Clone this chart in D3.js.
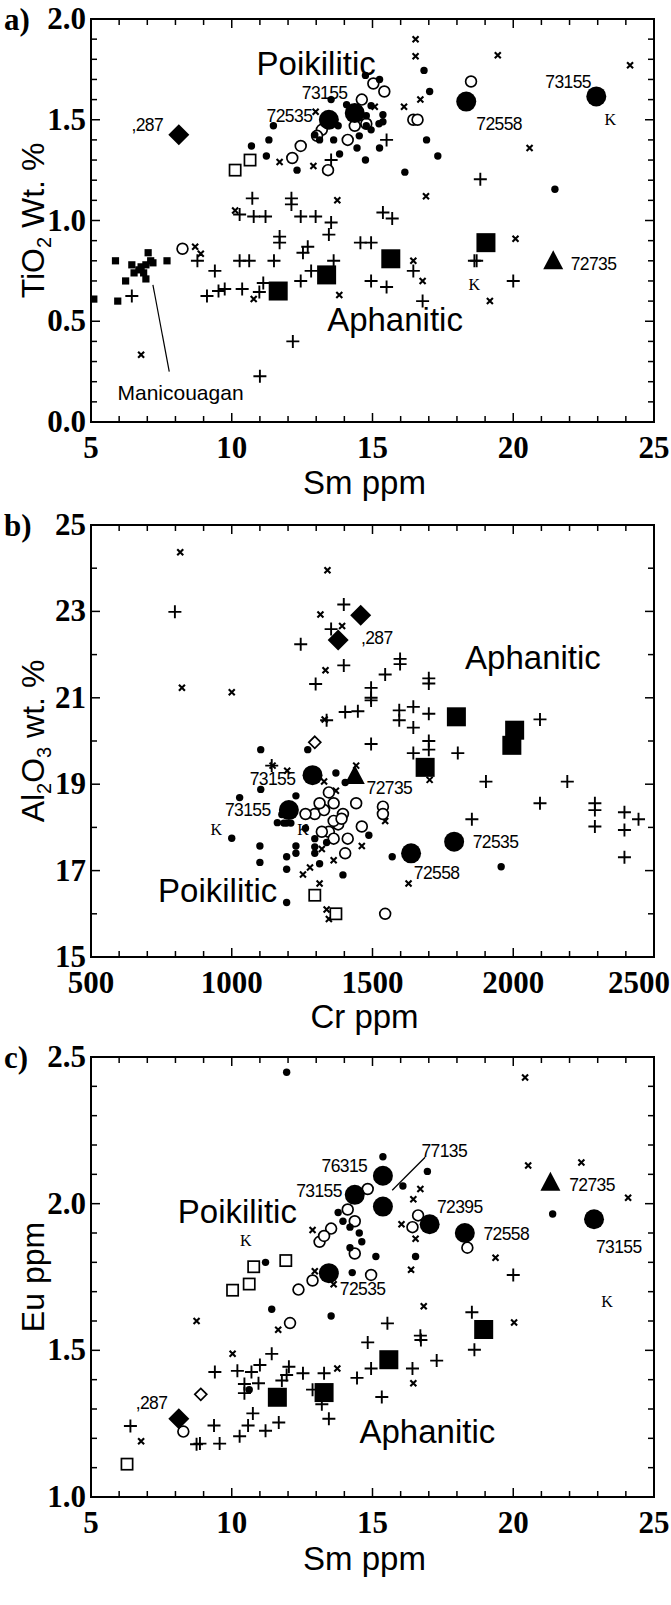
<!DOCTYPE html>
<html><head><meta charset="utf-8">
<script src="https://cdn.jsdelivr.net/npm/d3@7/dist/d3.min.js"></script>
<style>body{margin:0;background:#fff}svg{display:block}</style>
</head><body>
<script>
// ---------- Panel a: TiO2 vs Sm ----------
const aSmallDot=[[14.75,1.72],[15.25,1.70],[16.83,1.745],[17.03,1.64],[13.53,1.60],[14.08,1.575],[11.48,1.47],[10.7,1.37],[11.32,1.40],[11.23,1.32],[12.32,1.25],[13.83,1.33],[14.75,1.30],[15.25,1.36],[15.23,1.48],[14.78,1.47],[15.37,1.49],[16.92,1.40],[17.32,1.32],[16.15,1.24],[21.48,1.155],[13.62,1.40],[14.45,1.36],[14.53,1.42],[14.95,1.45],[13.12,1.40],[12.95,1.425],[13.78,1.47],[14.28,1.55],[14.95,1.57],[15.37,1.525],[14.78,1.52]];
const aOpenCircle=[[15.03,1.68],[15.42,1.64],[14.62,1.60],[18.5,1.69],[16.45,1.50],[16.6,1.50],[14.37,1.47],[13.2,1.45],[13.03,1.42],[12.45,1.37],[12.15,1.31],[13.42,1.25],[14.12,1.40],[14.78,1.48],[8.25,0.86]];
const aX=[[16.53,1.90],[16.53,1.815],[19.45,1.82],[24.15,1.77],[16.7,1.60],[16.12,1.565],[15.08,1.565],[12.98,1.54],[11.7,1.29],[12.9,1.27],[20.58,1.36],[16.9,1.12],[13.75,1.10],[10.12,1.05],[8.7,0.87],[8.9,0.835],[10.78,0.61],[13.82,0.63],[16.45,0.80],[16.78,0.70],[19.17,0.60],[20.08,0.91],[6.78,0.334]];
const aPlus=[[15.5,1.40],[13.53,1.30],[18.83,1.205],[10.73,1.11],[12.12,1.11],[12.12,1.08],[10.28,1.03],[10.78,1.02],[11.2,1.02],[12.45,1.02],[12.98,1.02],[13.53,0.99],[15.37,1.04],[15.7,1.01],[13.45,0.93],[11.7,0.92],[11.7,0.89],[14.57,0.89],[14.95,0.89],[12.7,0.87],[12.53,0.84],[10.28,0.80],[10.62,0.80],[11.5,0.80],[13.62,0.80],[9.4,0.75],[12.82,0.75],[12.45,0.70],[14.95,0.70],[15.5,0.67],[16.45,0.75],[18.62,0.80],[18.7,0.80],[20.0,0.70],[8.78,0.80],[9.12,0.625],[9.53,0.65],[9.75,0.66],[10.37,0.66],[10.98,0.645],[11.12,0.69],[16.78,0.60],[6.45,0.625],[12.17,0.40],[11.0,0.227]];
const aSmallSquare=[[5.1,0.61],[5.87,0.80],[5.95,0.60],[6.23,0.70],[6.45,0.78],[6.7,0.755],[6.87,0.74],[6.95,0.71],[7.03,0.84],[7.12,0.80],[7.2,0.79],[7.7,0.80],[6.53,0.74],[6.78,0.77],[6.95,0.78]];
const aBigCircle=[[13.45,1.50],[14.37,1.533],[18.33,1.59],[22.95,1.616]];
const aBigSquare=[[11.65,0.65],[13.37,0.73],[15.65,0.81],[19.03,0.89]];
const aBigDiamond=[[8.12,1.425]];
const aTriangle=[[21.42,0.795]];
const aOpenSquare=[[10.12,1.25],[10.65,1.30]];
const aK=[[23.45,1.50],[18.62,0.68]];
const aLabels=[[13.3,1.636,"73155"],[12.05,1.52,"72535"],[19.5,1.48,"72558"],[21.95,1.69,"73155"],[7.0,1.475,",287"],[22.85,0.785,"72735"]];
const aGroupLabels=[[13.0,1.78,"Poikilitic"],[15.8,0.51,"Aphanitic"]];

// ---------- Panel b: Al2O3 vs Cr ----------
const bX=[[817,24.37],[1340,23.95],[1315,22.93],[1392,22.66],[1333,21.64],[823,21.23],[1000,21.13],[1145,19.43],[1197,19.31],[1328,19.06],[1370,18.85],[1442,19.43],[1703,19.1],[1253,16.91],[1278,17.07],[1320,17.5],[1362,17.24],[1462,17.57],[1545,18.15],[1628,16.7],[1337,16.1],[1345,15.88],[1312,16.7],[1330,20.5]];
const bPlus=[[798,22.99],[1398,23.16],[1353,22.59],[1245,22.24],[1398,21.75],[1598,21.9],[1598,21.78],[1545,21.54],[1700,21.45],[1700,21.33],[1298,21.32],[1495,21.23],[1495,21.0],[1337,20.48],[1403,20.67],[1448,20.69],[1495,20.94],[1595,20.71],[1595,20.48],[1645,20.79],[1645,20.31],[1700,20.63],[1495,19.93],[1700,20.0],[1700,19.8],[1645,19.72],[1803,19.72],[2095,20.5],[1903,19.06],[2192,19.06],[2095,18.56],[2290,18.56],[2290,18.4],[2290,18.02],[2395,18.35],[2445,18.19],[2395,17.94],[2395,17.31],[1853,18.19],[1142,19.43]];
const bBigSquare=[[1798,20.56],[2005,20.25],[1995,19.9],[1687,19.39]];
const bBigCircle=[[1287,19.21],[1203,18.4],[1637,17.4],[1790,17.67]];
const bTriangle=[[1437,19.18]];
const bBigDiamond=[[1458,22.91],[1378,22.34]];
const bOpenDiamond=[[1295,19.97]];
const bSmallDot=[[1103,19.8],[1270,19.8],[1028,18.69],[1103,18.88],[1000,17.75],[1100,17.57],[1100,17.19],[1195,17.32],[1195,17.03],[1195,16.26],[1228,17.57],[1228,18.73],[1162,18.11],[1312,17.16],[1395,16.9],[1370,19.26],[1403,19.04],[1487,17.82],[1570,17.32],[1957,17.09],[1178,18.3],[1195,18.1],[1228,17.4],[1295,17.74],[1295,17.55],[1295,17.4],[1337,17.65],[1262,17.98],[1210,18.1],[1185,18.1]];
const bOpenCircle=[[1345,18.81],[1295,18.31],[1328,18.4],[1362,18.56],[1395,18.31],[1345,17.9],[1362,17.74],[1412,17.74],[1462,18.02],[1537,18.48],[1537,18.31],[1442,18.56],[1403,17.4],[1262,18.31],[1312,18.56],[1545,16.0],[1378,18.07],[1362,18.15],[1320,17.9],[1390,18.2]];
const bOpenSquare=[[1295,16.43],[1370,16.0]];
const bK=[[945,17.94],[1253,17.94]];
const bLabels=[[1145,19.12,"73155"],[1057,18.4,"73155"],[1560,18.93,"72735"],[1515,22.4,",287"],[1728,16.95,"72558"],[1937,17.67,"72535"]];
const bGroupLabels=[[2070,21.95,"Aphanitic"],[950,16.54,"Poikilitic"]];

// ---------- Panel c: Eu vs Sm ----------
const cSmallDot=[[11.95,2.448],[15.37,2.16],[16.95,2.11],[16.08,2.06],[21.4,1.965],[13.78,1.97],[13.95,1.94],[14.2,1.92],[14.53,1.90],[14.62,1.87],[16.53,1.82],[15.12,1.82],[14.2,1.85],[11.2,1.80],[11.42,1.64],[13.53,1.617],[14.28,1.765],[10.62,1.366]];
const cBigCircle=[[15.37,2.095],[14.37,2.03],[15.37,1.99],[17.03,1.93],[18.28,1.90],[22.87,1.947],[13.45,1.763]];
const cTriangle=[[21.32,2.07]];
const cX=[[20.42,2.43],[20.53,2.13],[22.42,2.14],[24.08,2.02],[16.7,2.05],[16.45,2.015],[16.03,1.93],[16.53,1.88],[12.87,1.91],[19.37,1.816],[16.37,1.775],[16.82,1.65],[8.75,1.60],[11.65,1.57],[20.03,1.595],[10.03,1.488],[13.75,1.438],[16.45,1.388],[6.78,1.19],[13.62,1.725],[12.95,1.77]];
const cOpenCircle=[[14.83,2.05],[16.62,1.96],[16.42,1.92],[13.53,1.915],[18.37,1.85],[14.12,1.98],[14.37,1.94],[14.37,1.83],[13.12,1.87],[13.28,1.89],[12.87,1.738],[12.37,1.707],[14.95,1.757],[12.07,1.593],[8.28,1.223]];
const cOpenSquare=[[6.28,1.112],[10.03,1.705],[10.62,1.726],[10.78,1.785],[11.92,1.806]];
const cOpenDiamond=[[8.9,1.35]];
const cBigDiamond=[[8.12,1.267]];
const cBigSquare=[[11.62,1.34],[13.28,1.356],[15.58,1.468],[18.95,1.571]];
const cPlus=[[20.0,1.757],[18.53,1.63],[15.53,1.592],[14.83,1.527],[16.7,1.55],[16.72,1.535],[18.62,1.502],[17.28,1.465],[16.42,1.438],[14.95,1.438],[14.45,1.406],[15.33,1.341],[11.42,1.488],[11.0,1.45],[12.03,1.444],[12.53,1.422],[10.7,1.426],[10.2,1.43],[9.4,1.426],[10.45,1.385],[10.45,1.354],[10.95,1.388],[11.95,1.416],[11.78,1.397],[12.87,1.366],[13.28,1.422],[13.45,1.267],[10.75,1.285],[10.58,1.244],[11.2,1.226],[11.67,1.254],[10.28,1.207],[9.37,1.244],[9.57,1.182],[8.87,1.182],[8.75,1.18],[6.4,1.242],[13.2,1.316]];
const cK=[[23.33,1.666],[10.5,1.875]];
const cLabels=[[14.0,2.13,"76315"],[13.1,2.045,"73155"],[17.55,2.18,"77135"],[18.1,1.99,"72395"],[19.75,1.897,"72558"],[23.75,1.853,"73155"],[22.8,2.065,"72735"],[14.65,1.71,"72535"],[7.15,1.323,",287"]];
const cGroupLabels=[[10.2,1.975,"Poikilitic"],[16.95,1.223,"Aphanitic"]];

// tick labels
const aXTicks=[5,10,15,20,25], aYTicks=[0,0.5,1.0,1.5,2.0];
const bXTicks=[500,1000,1500,2000,2500], bYTicks=[15,17,19,21,23,25];
const cXTicks=[5,10,15,20,25], cYTicks=[1.0,1.5,2.0,2.5];

const W=671,H=1605;
const svg=d3.select("body").append("svg").attr("width",W).attr("height",H);
const L=91,R=654;
const TF=31; // tick font size

function panel(opt){
  const g=svg.append("g");
  const x=d3.scaleLinear().domain(opt.xd).range([L,R]);
  const y=d3.scaleLinear().domain(opt.yd).range([opt.bottom,opt.top]);
  const minX=d3.range(opt.xd[0],opt.xd[1]+1e-9,opt.xminor);
  const minY=d3.range(opt.yd[0],opt.yd[1]+1e-9,opt.yminor);
  const isMaj=(v,arr)=>arr.some(t=>Math.abs(t-v)<1e-6);
  minX.forEach(v=>{const len=isMaj(v,opt.xt)?9:6;
    g.append("line").attr("x1",x(v)).attr("x2",x(v)).attr("y1",opt.bottom).attr("y2",opt.bottom-len).attr("stroke","#000").attr("stroke-width",1.5);
    g.append("line").attr("x1",x(v)).attr("x2",x(v)).attr("y1",opt.top).attr("y2",opt.top+len).attr("stroke","#000").attr("stroke-width",1.5);});
  minY.forEach(v=>{const len=isMaj(v,opt.yt)?9:6;
    g.append("line").attr("y1",y(v)).attr("y2",y(v)).attr("x1",L).attr("x2",L+len).attr("stroke","#000").attr("stroke-width",1.5);
    g.append("line").attr("y1",y(v)).attr("y2",y(v)).attr("x1",R).attr("x2",R-len).attr("stroke","#000").attr("stroke-width",1.5);});
  g.append("rect").attr("x",L).attr("y",opt.top).attr("width",R-L).attr("height",opt.bottom-opt.top).attr("fill","none").attr("stroke","#000").attr("stroke-width",2);
  // tick labels
  g.selectAll(null).data(opt.xt).join("text")
    .attr("x",d=>x(d)>W-40&&opt.xf(d).length>2?W-1:x(d))
    .attr("text-anchor",d=>x(d)>W-40&&opt.xf(d).length>2?"end":"middle")
    .attr("y",opt.bottom+36)
    .attr("font-family","Liberation Serif").attr("font-weight","bold").attr("font-size",TF).text(opt.xf);
  g.selectAll(null).data(opt.yt).join("text").attr("x",L-5).attr("y",d=>y(d)+10)
    .attr("text-anchor","end").attr("font-family","Liberation Serif").attr("font-weight","bold").attr("font-size",TF).text(opt.yf);
  g.append("text").attr("x",4).attr("y",opt.top+11).attr("font-family","Liberation Serif").attr("font-weight","bold").attr("font-size",TF).text(opt.tag);
  // axis titles
  g.append("text").attr("x",(L+R)/2-8).attr("y",opt.bottom+opt.xtoff).attr("text-anchor","middle").attr("font-family","Liberation Sans").attr("font-size",33).text(opt.xlab);
  const yl=g.append("text").attr("transform",`translate(44,${(opt.top+opt.bottom)/2}) rotate(-90)`).attr("text-anchor","middle").attr("font-family","Liberation Sans").attr("font-size",32);
  opt.ylab.forEach(p=>{const t=yl.append("tspan").text(p[0]); if(p[1]) t.attr("font-size",20).attr("dy",7); else if(p[2]) t.attr("dy",-7);});
  return {g,x,y};
}

function sym(P,data,type){
  const {g,x,y}=P;
  const sel=g.append("g").selectAll(null).data(data).join("g").attr("transform",d=>`translate(${x(d[0])},${y(d[1])})`);
  if(type==="dot") sel.append("circle").attr("r",3.7).attr("fill","#000");
  if(type==="open") sel.append("circle").attr("r",5.4).attr("fill","#fff").attr("stroke","#000").attr("stroke-width",1.7);
  if(type==="big") sel.append("circle").attr("r",10).attr("fill","#000");
  if(type==="x") sel.append("path").attr("d","M-3,-3L3,3M-3,3L3,-3").attr("stroke","#000").attr("stroke-width",2.1);
  if(type==="plus") sel.append("path").attr("d","M-6.5,0H6.5M0,-6.5V6.5").attr("stroke","#000").attr("stroke-width",1.9);
  if(type==="bigsq") sel.append("rect").attr("x",-9.5).attr("y",-9.5).attr("width",19).attr("height",19).attr("fill","#000");
  if(type==="smsq") sel.append("rect").attr("x",-3.6).attr("y",-3.6).attr("width",7.2).attr("height",7.2).attr("fill","#000");
  if(type==="opensq") sel.append("rect").attr("x",-5.6).attr("y",-5.6).attr("width",11.2).attr("height",11.2).attr("fill","#fff").attr("stroke","#000").attr("stroke-width",1.7);
  if(type==="diamond") sel.append("path").attr("d","M0,-10.5L10.5,0L0,10.5L-10.5,0Z").attr("fill","#000");
  if(type==="opendiamond") sel.append("path").attr("d","M0,-6L6,0L0,6L-6,0Z").attr("fill","#fff").attr("stroke","#000").attr("stroke-width",1.7);
  if(type==="tri") sel.append("path").attr("d","M0,-11.5L10,7.5L-10,7.5Z").attr("fill","#000");
  if(type==="K") sel.append("text").attr("text-anchor","middle").attr("y",5.5).attr("font-family","Liberation Serif").attr("font-size",16).text("K");
}
function labels(P,data,size,ls){
  P.g.append("g").selectAll(null).data(data).join("text").attr("x",d=>P.x(d[0])).attr("y",d=>P.y(d[1])+size*0.36)
   .attr("text-anchor","middle").attr("font-family","Liberation Sans").attr("font-size",size)
   .attr("letter-spacing",ls||0).text(d=>d[2]);
}

// Panel a
const A=panel({top:19,bottom:422,xd:[5,25],yd:[0,2],xminor:1,yminor:0.1,xt:aXTicks,yt:aYTicks,xf:d3.format("d"),yf:d3.format(".1f"),tag:"a)",xlab:"Sm ppm",xtoff:72,ylab:[["TiO"],["2",true],[" Wt. %",false,true]]});
A.g.append("line").attr("x1",A.x(7.2)).attr("y1",A.y(0.68)).attr("x2",A.x(7.78)).attr("y2",A.y(0.25)).attr("stroke","#000").attr("stroke-width",1.2);
sym(A,aPlus,"plus");sym(A,aX,"x");sym(A,aOpenCircle,"open");sym(A,aSmallDot,"dot");sym(A,aSmallSquare,"smsq");
sym(A,aOpenSquare,"opensq");sym(A,aBigCircle,"big");sym(A,aBigSquare,"bigsq");sym(A,aBigDiamond,"diamond");sym(A,aTriangle,"tri");sym(A,aK,"K");
labels(A,aLabels,17.5,-0.6);labels(A,aGroupLabels,33);labels(A,[[8.18,0.145,"Manicouagan"]],21);

// Panel b
const B=panel({top:525,bottom:957,xd:[500,2500],yd:[15,25],xminor:100,yminor:1,xt:bXTicks,yt:bYTicks,xf:d3.format("d"),yf:d3.format("d"),tag:"b)",xlab:"Cr ppm",xtoff:71,ylab:[["Al"],["2",true],["O",false,true],["3",true],[" wt. %",false,true]]});
sym(B,bPlus,"plus");sym(B,bX,"x");sym(B,bOpenCircle,"open");sym(B,bSmallDot,"dot");sym(B,bOpenSquare,"opensq");sym(B,bOpenDiamond,"opendiamond");
sym(B,bBigCircle,"big");sym(B,bBigSquare,"bigsq");sym(B,bBigDiamond,"diamond");sym(B,bTriangle,"tri");sym(B,bK,"K");
labels(B,bLabels,17.5,-0.6);labels(B,bGroupLabels,33);

// Panel c
const C=panel({top:1057,bottom:1497,xd:[5,25],yd:[1,2.5],xminor:1,yminor:0.1,xt:cXTicks,yt:cYTicks,xf:d3.format("d"),yf:d3.format(".1f"),tag:"c)",xlab:"Sm ppm",xtoff:73,ylab:[["Eu ppm"]]});
C.g.append("line").attr("x1",C.x(15.7)).attr("y1",C.y(2.046)).attr("x2",C.x(16.87)).attr("y2",C.y(2.158)).attr("stroke","#000").attr("stroke-width",1.3);
sym(C,cPlus,"plus");sym(C,cX,"x");sym(C,cOpenCircle,"open");sym(C,cSmallDot,"dot");sym(C,cOpenSquare,"opensq");sym(C,cOpenDiamond,"opendiamond");
sym(C,cBigCircle,"big");sym(C,cBigSquare,"bigsq");sym(C,cBigDiamond,"diamond");sym(C,cTriangle,"tri");sym(C,cK,"K");
labels(C,cLabels,17.5,-0.6);labels(C,cGroupLabels,33);
</script>
</body></html>
